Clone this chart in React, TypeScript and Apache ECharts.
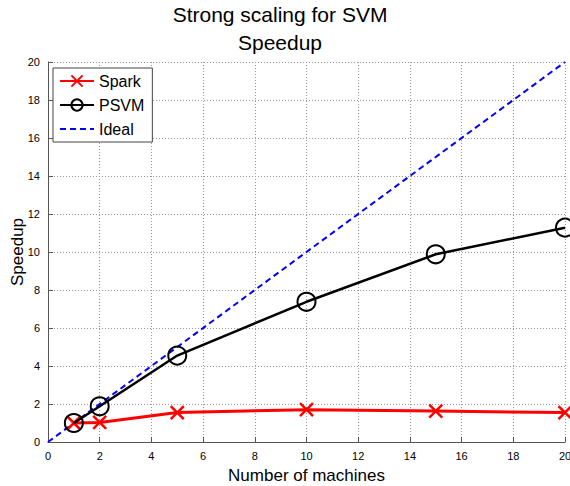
import React, { useEffect, useRef } from "react";
import * as echarts from "echarts";

const machines = [1, 2, 5, 10, 15, 20];
const sparkSpeedup = [1.0, 1.03, 1.55, 1.7, 1.63, 1.55];
const psvmSpeedup = [1.0, 1.88, 4.55, 7.38, 9.88, 11.28];
const idealX = [0, 20];
const idealY = [0, 20];
const titleLines = ["Strong scaling for SVM", "Speedup"];

const FONT = "'Liberation Sans', Arial, Helvetica, sans-serif";
const CROSS = "path://M0,0L10,10M10,0L0,10";

export default function App() {
  const ref = useRef<HTMLDivElement>(null);
  useEffect(() => {
    if (!ref.current) return;
    const chart = echarts.init(ref.current, undefined, { renderer: "svg" });
    const axisCommon = {
      min: 0,
      max: 20,
      interval: 2,
      axisLine: { show: true, onZero: false, lineStyle: { color: "#555", width: 1 } },
      axisTick: { show: true, inside: true, length: 5, lineStyle: { color: "#555" } },
      axisLabel: { color: "#000", fontSize: 11, fontFamily: FONT },
      splitLine: { show: true, lineStyle: { color: "#999", type: [1, 2], width: 1 } },
      nameLocation: "middle" as const,
      nameMoveOverlap: false,
      nameTextStyle: { color: "#000", fontSize: 17, fontFamily: FONT },
    };
    chart.setOption({
      animation: false,
      textStyle: { fontFamily: FONT },
      grid: { left: 48, right: 5, top: 62, bottom: 44, containLabel: false, outerBoundsMode: "none" },
      xAxis: { type: "value", ...axisCommon, name: "Number of machines", nameGap: 25 },
      yAxis: { type: "value", ...axisCommon, name: "Speedup", nameGap: 22 },
      graphic: titleLines.map((t, i) => ({
        type: "text",
        x: 280,
        y: 4 + i * 28,
        style: { text: t, fontSize: 21, fontFamily: FONT, fill: "#000", textAlign: "center", textVerticalAlign: "top" },
      })),
      legend: {
        left: 53,
        top: 68,
        orient: "vertical",
        backgroundColor: "#fff",
        borderColor: "#444",
        borderWidth: 1,
        padding: [5, 8, 5, 6],
        itemWidth: 34,
        itemHeight: 14,
        itemGap: 8,
        textStyle: { fontSize: 16, color: "#000", fontFamily: FONT },
        data: ["Spark", "PSVM", { name: "Ideal", itemStyle: { opacity: 0 } }],
      },
      series: [
        {
          name: "Spark",
          type: "line",
          data: machines.map((m, i) => [m, sparkSpeedup[i]]),
          symbol: CROSS,
          symbolSize: 13,
          lineStyle: { color: "#ff0000", width: 3 },
          itemStyle: { color: "#ff0000", borderColor: "#ff0000", borderWidth: 2.5 },
          z: 3,
        },
        {
          name: "PSVM",
          type: "line",
          data: machines.map((m, i) => [m, psvmSpeedup[i]]),
          symbol: "circle",
          symbolSize: 18,
          lineStyle: { color: "#000", width: 2.5 },
          itemStyle: { color: "rgba(0,0,0,0)", borderColor: "#000", borderWidth: 2 },
          z: 4,
        },
        {
          name: "Ideal",
          type: "line",
          data: idealX.map((x, i) => [x, idealY[i]]),
          symbol: "none",
          lineStyle: { color: "#0000ff", width: 2, type: [6, 4] },
          itemStyle: { color: "#0000ff" },
          z: 2,
        },
      ],
    });
    return () => chart.dispose();
  }, []);
  return <div ref={ref} style={{ width: 570, height: 486, position: "absolute", left: 0, top: 0, background: "#fff" }} />;
}
